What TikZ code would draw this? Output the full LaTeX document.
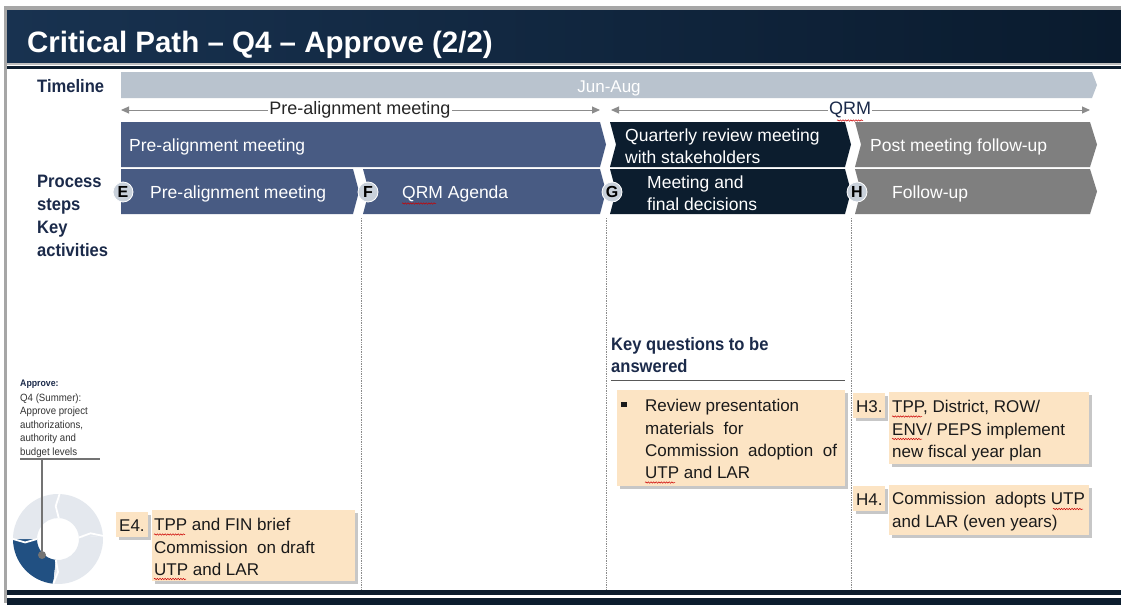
\documentclass[tikz,border=0pt]{standalone}
\usepackage{fontspec}
\setmainfont{Liberation Sans}
\newfontfamily\nar[FakeStretch=0.92]{Liberation Sans}
\usetikzlibrary{arrows.meta,calc,decorations.pathmorphing}
\definecolor{slate}{RGB}{72,91,131}
\definecolor{navy}{RGB}{12,29,46}
\definecolor{chgray}{RGB}{127,127,127}
\definecolor{tlbar}{RGB}{185,195,206}
\definecolor{hdrA}{RGB}{24,50,80}
\definecolor{hdrB}{RGB}{10,27,46}
\definecolor{lbl}{RGB}{27,42,74}
\definecolor{boxfill}{RGB}{252,228,196}
\definecolor{circfill}{RGB}{200,208,218}
\definecolor{donutlight}{RGB}{228,232,238}
\definecolor{donutdark}{RGB}{33,80,130}
\definecolor{arrgray}{RGB}{140,140,140}
\definecolor{txt}{RGB}{26,26,26}
\tikzset{
  chevtext/.style={anchor=base west, inner sep=0pt, text=white, font=\fontsize{17.5}{20}\selectfont},
  sidelabel/.style={anchor=base west, inner sep=0pt, text=lbl, font=\nar\bfseries\fontsize{18}{20}\selectfont},
  boxtext/.style={anchor=base west, inner sep=0pt, text=txt, font=\fontsize{17}{20}\selectfont},
  smalltext/.style={anchor=base west, inner sep=0pt, text=black!80, font=\nar\fontsize{10.5}{12}\selectfont},
  stepcirc/.style={circle, fill=circfill, draw=white, line width=0.8pt, minimum size=20pt, inner sep=0pt, font=\bfseries\fontsize{16}{16}\selectfont, text=black},
  spanarrow/.style={draw=arrgray, line width=1pt, {Triangle[length=8pt,width=7pt]}-{Triangle[length=8pt,width=7pt]}},
  spanlabel/.style={fill=white, inner sep=1pt, font=\fontsize{18}{20}\selectfont},
  sepline/.style={draw=black!45, densely dotted, line width=0.7pt},
  notebox/.style={fill=boxfill},
  boxshadow/.style={fill=black!22},
  squig/.style={draw=red!80!black, line width=0.5pt, decorate, decoration={snake, amplitude=0.7pt, segment length=2.6pt}}
}
\begin{document}
\begin{tikzpicture}[x=1pt,y=-1pt]
\useasboundingbox (0,0) rectangle (1121,605);
\fill[white] (0,0) rectangle (1121,605);
% outer frame
\fill[black!35] (4,6) rectangle (1121,10);
\fill[black!35] (4,6) rectangle (7,603);
% header
\shade[left color=hdrA, right color=hdrB] (7,10) rectangle (1121,63);
\fill[black!25] (7,63) rectangle (1121,64.5);
\fill[navy] (7,66) rectangle (1121,68.5);
\node[anchor=base west, inner sep=0pt, text=white, font=\bfseries\fontsize{29.5}{32}\selectfont] (title) at (27,52) {Critical Path -- Q4 -- Approve (2/2)};
% bottom bar
\fill[navy] (7,590) rectangle (1121,595);
\fill[navy] (7,598) rectangle (1121,605);

% timeline bar
\fill[tlbar] (121,72) -- (1092,72) -- (1097,85) -- (1092,98) -- (121,98) -- cycle;
\node[sidelabel] (tl) at (37,92) {Timeline};
\node[anchor=base, inner sep=0pt, text=white, font=\fontsize{17}{20}\selectfont] (jun) at (609,92) {Jun-Aug};

% span arrows
\coordinate (pa1) at (121,110);
\coordinate (pa2) at (600,110);
\coordinate (qa1) at (611,110);
\coordinate (qa2) at (1090,110);
\draw[spanarrow] (pa1) -- (pa2);
\draw[spanarrow] (qa1) -- (qa2);
\node[spanlabel, text=black!85] (pal) at (360,110) {Pre-alignment meeting};
\node[spanlabel, text=lbl] (qrml) at (850,110) {QRM};
\draw[squig] (837,120.5) -- (863,120.5);

% row 1 chevrons
\fill[slate] (121,122) -- (600,122) -- (606,144.5) -- (600,167) -- (121,167) -- cycle;
\fill[navy] (610,122) -- (845,122) -- (851,144.5) -- (845,167) -- (610,167) -- (616,144.5) -- cycle;
\fill[chgray] (855,122) -- (1090,122) -- (1097,144.5) -- (1090,167) -- (855,167) -- (861,144.5) -- cycle;
\node[chevtext] (r1a) at (129,151) {Pre-alignment meeting};
\node[chevtext] (r1b1) at (625,141) {Quarterly review meeting};
\node[chevtext] (r1b2) at (625,163) {with stakeholders};
\node[chevtext] (r1c) at (870,151) {Post meeting follow-up};

% row 2 chevrons
\fill[slate] (121,169) -- (353,169) -- (359,191.5) -- (353,214) -- (121,214) -- cycle;
\fill[slate] (363,169) -- (600,169) -- (606,191.5) -- (600,214) -- (363,214) -- (369,191.5) -- cycle;
\fill[navy] (610,169) -- (845,169) -- (851,191.5) -- (845,214) -- (610,214) -- (616,191.5) -- cycle;
\fill[chgray] (855,169) -- (1090,169) -- (1097,191.5) -- (1090,214) -- (855,214) -- (861,191.5) -- cycle;
\node[chevtext] (r2a) at (150,198) {Pre-alignment meeting};
\node[chevtext] (r2b) at (402,198) {QRM Agenda};
\draw[squig] (402,203.5) -- (436,203.5);
\node[chevtext] (r2c1) at (647,188) {Meeting and};
\node[chevtext] (r2c2) at (647,210) {final decisions};
\node[chevtext] (r2d) at (892,198) {Follow-up};
\node[stepcirc] (cE) at (123,192) {E};
\node[stepcirc] (cF) at (368,192) {F};
\node[stepcirc] (cG) at (612,192) {G};
\node[stepcirc] (cH) at (857,192) {H};

% side labels
\node[sidelabel] (ps1) at (37,187) {Process};
\node[sidelabel] (ps2) at (37,210) {steps};
\node[sidelabel] (ka1) at (37,233) {Key};
\node[sidelabel] (ka2) at (37,256) {activities};

% separators
\coordinate (s1t) at (361,218); \coordinate (s1b) at (361,590);
\coordinate (s2t) at (606,218); \coordinate (s2b) at (606,590);
\coordinate (s3t) at (851,218); \coordinate (s3b) at (851,590);
\draw[sepline] (s1t) -- (s1b);
\draw[sepline] (s2t) -- (s2b);
\draw[sepline] (s3t) -- (s3b);

% key questions
\node[sidelabel] (kq1) at (611,350) {Key questions to be};
\node[sidelabel] (kq2) at (611,372) {answered};
\coordinate (kql) at (611,380); \coordinate (kqr) at (845,380);
\draw[black!65, line width=1pt] (kql) -- (kqr);

% review box
\fill[boxshadow] (620,393) rectangle (848,489);
\fill[notebox] (617,390) rectangle (845,486);
\node[fill=txt, minimum size=5.5pt, inner sep=0pt] (bul) at (624,404.5) {};
\node[boxtext] (rv1) at (645,411) {Review presentation};
\node[boxtext] (rv2) at (645,434) {materials\ \ for};
\node[boxtext] (rv3) at (645,456) {Commission\ \ adoption\ \ of};
\node[boxtext] (rv4) at (645,478) {UTP and LAR};
\draw[squig] (645,482.5) -- (675,482.5);

% H3
\fill[boxshadow] (856,396) rectangle (888,421);
\fill[notebox] (853,393) rectangle (885,418);
\node[boxtext] (h3l) at (856,412) {H3.};
\fill[boxshadow] (892,395) rectangle (1092,467);
\fill[notebox] (889,392) rectangle (1089,464);
\node[boxtext] (h3a) at (892,412) {TPP, District,\ ROW/};
\node[boxtext] (h3b) at (892,435) {ENV/\ PEPS implement};
\node[boxtext] (h3c) at (892,457) {new fiscal year plan};
\draw[squig] (892,416.5) -- (922,416.5);
\draw[squig] (892,439) -- (922,439);

% H4
\fill[boxshadow] (856,489) rectangle (888,514);
\fill[notebox] (853,486) rectangle (885,511);
\node[boxtext] (h4l) at (856,505) {H4.};
\fill[boxshadow] (892,488) rectangle (1092,538);
\fill[notebox] (889,485) rectangle (1089,535);
\node[boxtext] (h4a) at (892,504) {Commission\ \ adopts\ UTP};
\node[boxtext] (h4b) at (892,527) {and LAR (even years)};
\draw[squig] (1053,509) -- (1083,509);

% E4
\fill[boxshadow] (119,515) rectangle (151,540);
\fill[notebox] (116,512) rectangle (148,537);
\node[boxtext] (e4l) at (119,531) {E4.};
\fill[boxshadow] (155,513) rectangle (358,584);
\fill[notebox] (152,510) rectangle (355,581);
\node[boxtext] (e4a) at (154,530) {TPP and FIN brief};
\node[boxtext] (e4b) at (154,553) {Commission\ \ on draft};
\node[boxtext] (e4c) at (154,575) {UTP and LAR};
\draw[squig] (154,534.5) -- (185,534.5);
\draw[squig] (154,579) -- (186,579);

% left note
\node[smalltext, font=\nar\bfseries\fontsize{9.5}{10}\selectfont, text=lbl] (ap) at (20,386) {Approve:};
\node[smalltext] (n1) at (20,401) {Q4 (Summer):};
\node[smalltext] (n2) at (20,414.5) {Approve project};
\node[smalltext] (n3) at (20,428) {authorizations,};
\node[smalltext] (n4) at (20,441.5) {authority and};
\node[smalltext] (n5) at (20,455) {budget\ levels};

% donut
\coordinate (dc) at (58,539);
\def\ro{45}\def\ri{21}
\fill[donutdark] ($(dc)+(96:\ro)$) arc[start angle=96,end angle=180,radius=\ro] -- ($(dc)+(180:\ri)$) arc[start angle=180,end angle=96,radius=\ri] -- cycle;
\fill[donutlight] ($(dc)+(180:\ro)$) arc[start angle=180,end angle=272,radius=\ro] -- ($(dc)+(272:\ri)$) arc[start angle=272,end angle=180,radius=\ri] -- cycle;
\fill[donutlight] ($(dc)+(272:\ro)$) arc[start angle=272,end angle=356,radius=\ro] -- ($(dc)+(356:\ri)$) arc[start angle=356,end angle=272,radius=\ri] -- cycle;
\fill[donutlight] ($(dc)+(356:\ro)$) arc[start angle=356,end angle=456,radius=\ro] -- ($(dc)+(456:\ri)$) arc[start angle=456,end angle=356,radius=\ri] -- cycle;
\foreach \a in {96,180,272,356} {
  \draw[white, line width=1.8pt] ($(dc)+(\a:\ri)$) -- ($(dc)+(\a-6:{(\ri+\ro)/2})$) -- ($(dc)+(\a:\ro)$);
}
\coordinate (nl1) at (20,459); \coordinate (nl2) at (100,459);
\coordinate (vt) at (42,459);
\draw[black!55, line width=1.2pt] (nl1) -- (nl2);
\node[circle, fill=black!55, minimum size=8pt, inner sep=0pt] (dot) at (42,555) {};
\draw[black!55, line width=1.5pt] (vt) -- (dot);
\end{tikzpicture}
\end{document}
